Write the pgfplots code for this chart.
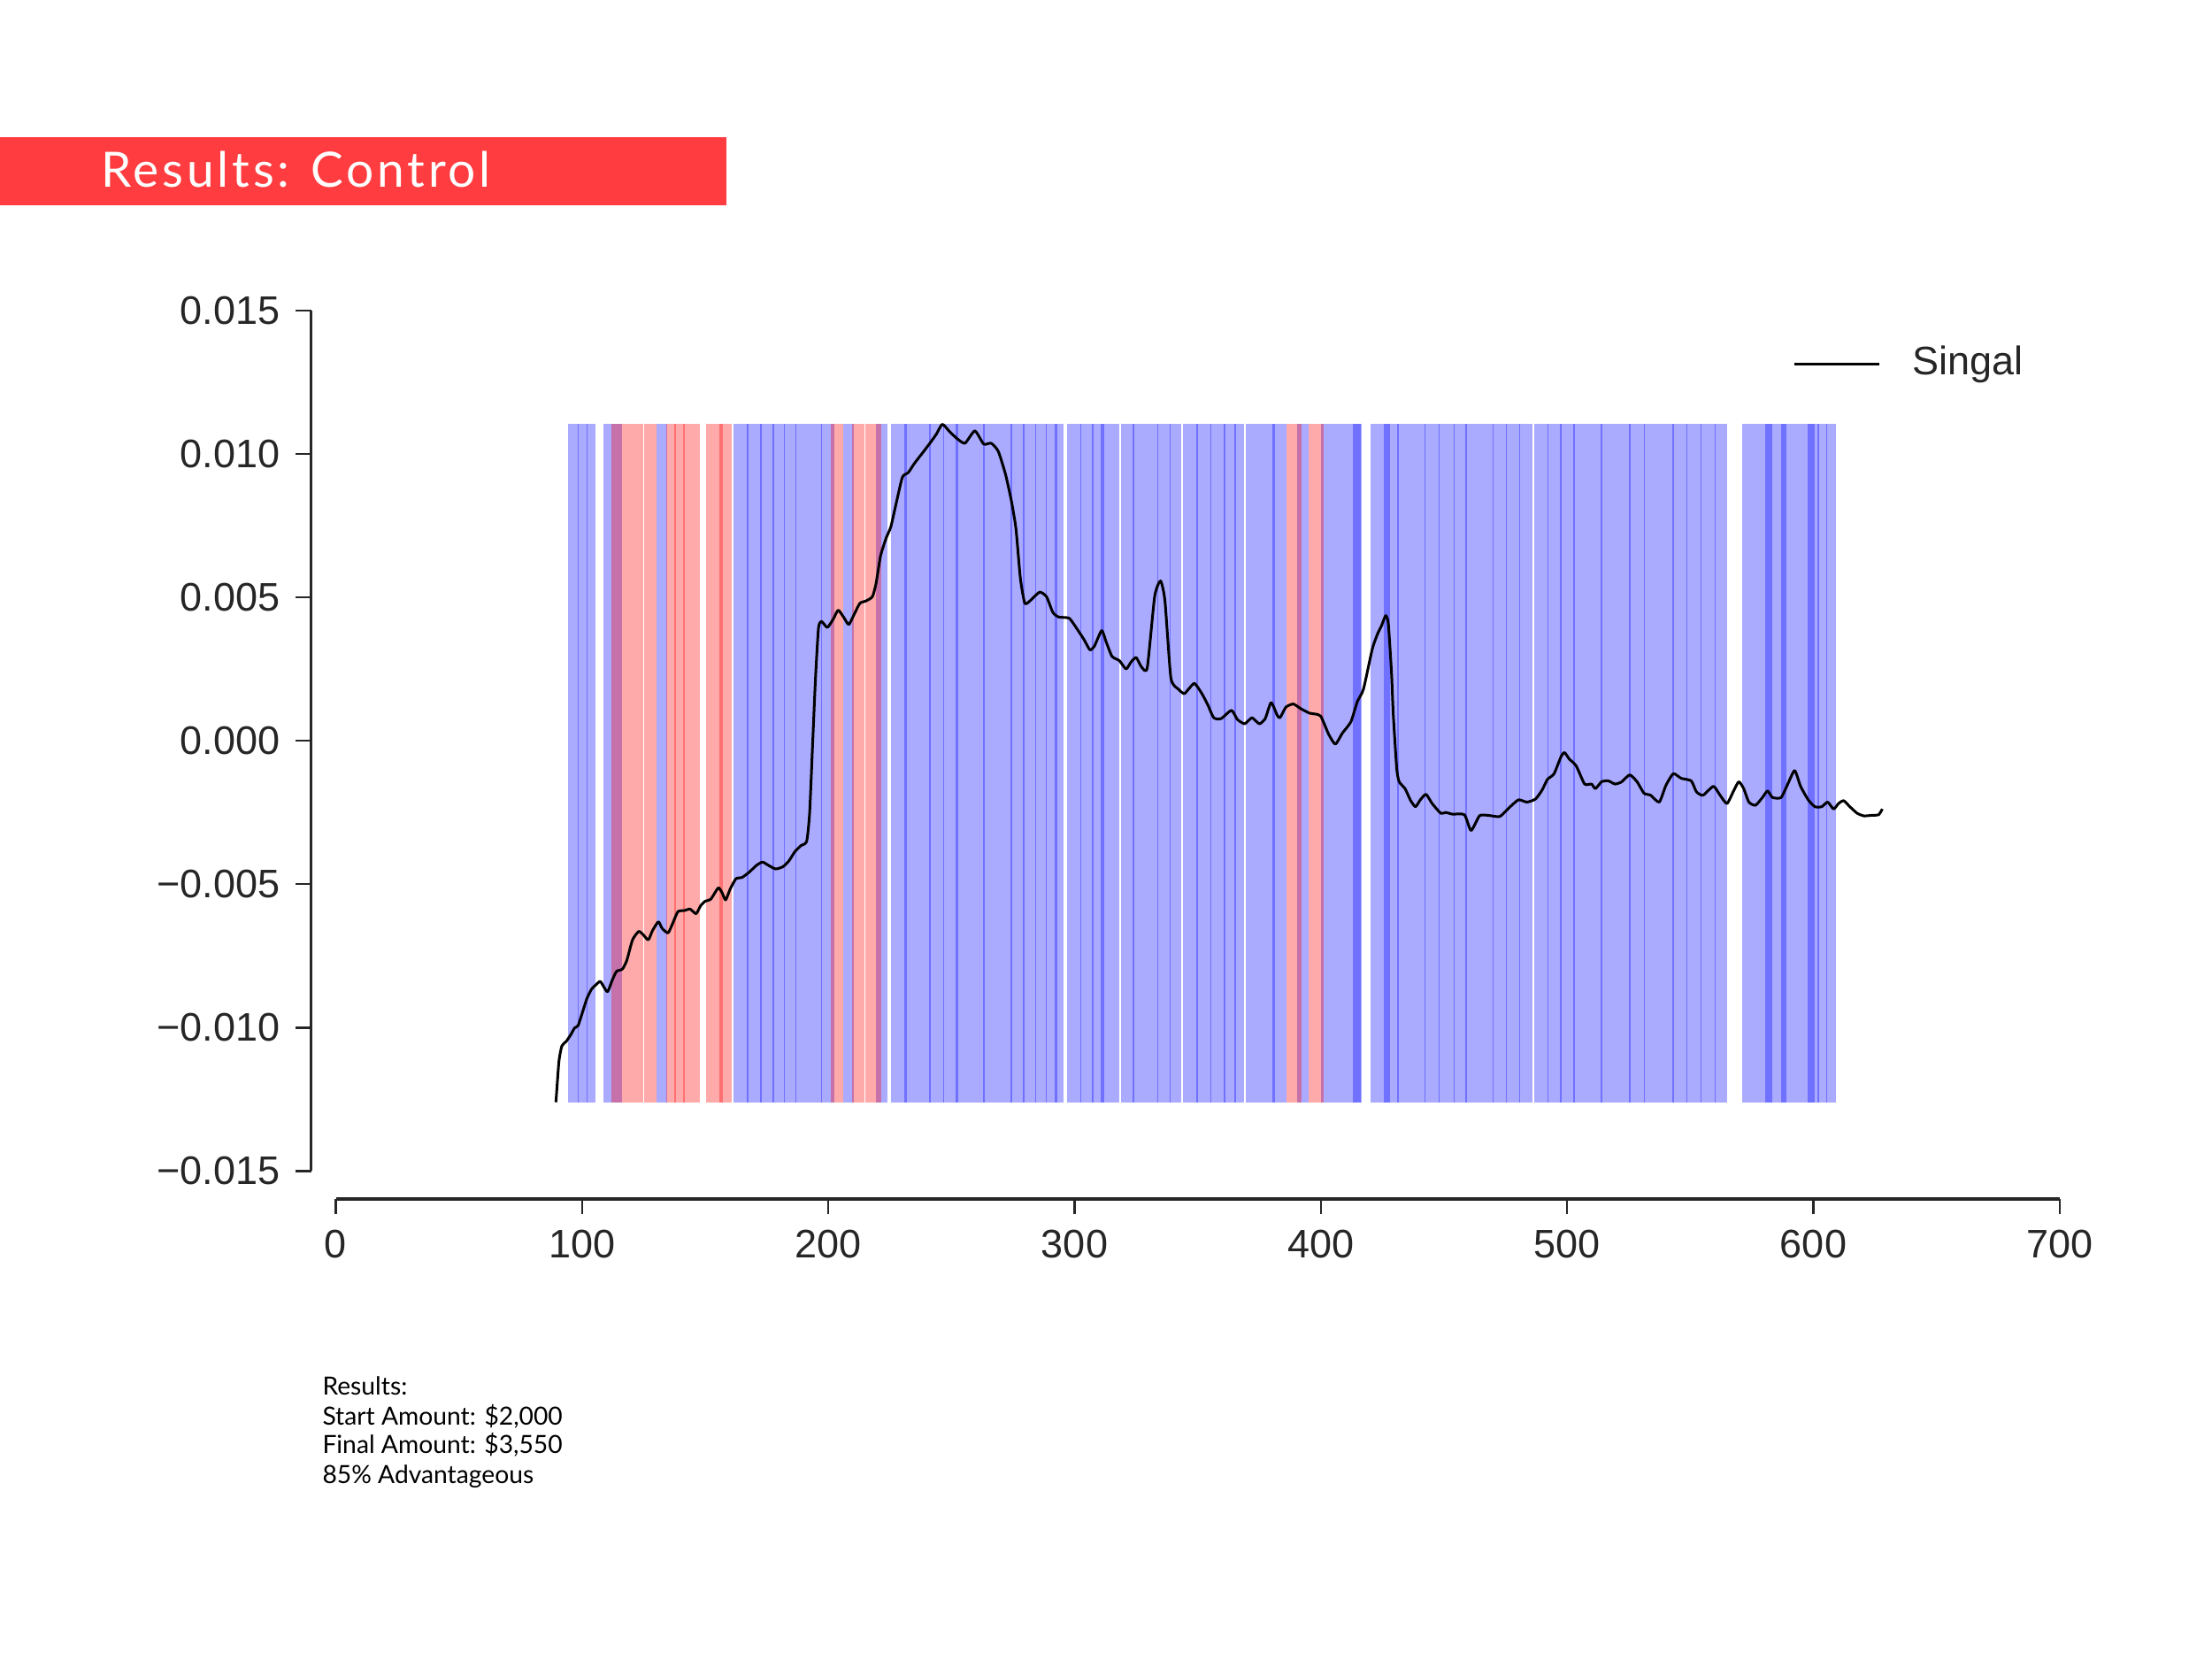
\documentclass[border=0pt]{standalone}
\usepackage{fontspec}
\setmainfont{Liberation Sans}
\newfontfamily\latofont{Lato}
\newfontfamily\titlefont{Lato}[LetterSpace=7]
\usepackage{pgfplots}
\pgfplotsset{compat=1.18}

\definecolor{axgray}{RGB}{38,38,38}
\definecolor{bannerred}{RGB}{255,61,64}

\def\blo{-0.0126}
\def\bhi{0.01105}

\begin{document}
\begin{tikzpicture}
\path[use as bounding box] (0,0) rectangle (500pt,375pt);

% title banner
\fill[bannerred] (0pt,328.5pt) rectangle (164.2pt,343.9pt);
\node[anchor=base west, inner sep=0pt, text=white, font=\titlefont\fontsize{11}{13}\selectfont]
  at (22.6pt,332.7pt) {Results: Control};

\begin{axis}[
    at={(75.9pt,110.32pt)}, anchor=south west,
    scale only axis,
    width=389.66pt, height=194.52pt,
    xmin=0, xmax=700, ymin=-0.015, ymax=0.015,
    axis lines=left,
    axis x line shift=6.3pt,
    axis y line shift=5.56pt,
    axis line style={-, line width=0.7pt, color=axgray},
    every outer x axis line/.append style={-},
    every outer y axis line/.append style={-},
    xtick={0,100,200,300,400,500,600,700},
    xticklabels={0,100,200,300,400,500,600,700},
    ytick={-0.015,-0.01,-0.005,0,0.005,0.01,0.015},
    yticklabels={−0.015,−0.010,−0.005,0.000,0.005,0.010,0.015},
    scaled y ticks=false,
    tick align=outside,
    major tick length=3.5pt,
    tick style={line width=0.5pt, color=axgray},
    tick label style={font=\fontsize{9}{10}\selectfont, text=axgray},
    legend style={draw=none, fill=none, at={(0.8446,0.9381)}, anchor=west,
        inner sep=0pt, font=\fontsize{9}{10}\selectfont, text=axgray,
        nodes={inner sep=0pt}},
    legend image code/.code={\draw[#1] (0pt,0pt) -- (19.2pt,0pt); \path (26.4pt,0pt);},
]

% blue spans
\foreach \a/\b in {94.2/105.5, 108.8/116.1, 130.1/134.6, 161.5/202.3, 205.9/210.5,
    219.4/223.9, 225.6/295.6, 296.9/318.2, 319.0/343.3, 344.1/368.8, 369.6/386.0,
    390.3/395.1, 400.2/416.7, 420.3/485.8, 486.6/565.1, 571.2/609.2} {
  \edef\temp{\noexpand\addplot[forget plot, draw=none, fill=blue, fill opacity=0.333]
    coordinates {(\a,\blo) (\b,\blo) (\b,\bhi) (\a,\bhi)};}
  \temp
}
% overlapping blue spans
\foreach \a/\b in {98.2/98.7, 101.8/102.3, 167.0/167.6, 172.35/172.85, 177.45/177.95,
    181.9/182.5, 186.6/187.0, 197.0/197.4, 230.7/231.9, 241.05/241.55, 246.65/247.15,
    251.75/252.85, 262.7/263.5, 273.85/274.55, 278.85/279.55, 284.05/284.55, 288.4/288.8,
    291.8/293.0, 302.35/302.85, 306.95/307.85, 310.5/312.1, 323.45/324.15, 333.45/333.95,
    338.45/338.95, 349.45/349.95, 355.05/355.55, 360.6/361.2, 364.8/365.6, 380.35/381.25,
    413.1/416.4, 425.7/428.1, 431.1/431.5, 442.2/442.6, 447.9/448.3, 453.9/454.3,
    458.8/459.4, 469.7/470.1, 475.2/475.6, 480.4/480.8, 491.9/492.5, 497.15/497.65,
    502.5/503.1, 513.7/514.3, 525.1/525.7, 531.2/531.6, 542.7/543.3, 548.35/548.65,
    554.3/554.7, 559.8/560.4, 580.4/583.4, 586.8/589.2, 597.8/600.6, 601.6/602.5,
    605.15/605.45} {
  \edef\temp{\noexpand\addplot[forget plot, draw=none, fill=blue, fill opacity=0.333]
    coordinates {(\a,\blo) (\b,\blo) (\b,\bhi) (\a,\bhi)};}
  \temp
}
% red spans
\foreach \a/\b in {111.8/124.7, 125.3/130.4, 134.1/147.7, 150.5/160.9, 201.1/205.9,
    209.8/214.5, 214.9/221.5, 386.0/392.0, 395.1/401.3,
    137.4/138.0, 141.0/141.6, 155.6/157.1} {
  \edef\temp{\noexpand\addplot[forget plot, draw=none, fill=red, fill opacity=0.333]
    coordinates {(\a,\blo) (\b,\blo) (\b,\bhi) (\a,\bhi)};}
  \temp
}

\addplot[black, line width=0.6pt, line join=round, smooth, tension=0.35] table {
x y
89.4 -0.01260
90.6 -0.01119
91.8 -0.01064
93.6 -0.01048
95.4 -0.01025
97.0 -0.01001
98.4 -0.00993
100.2 -0.00946
102.0 -0.00898
103.8 -0.00867
105.6 -0.00851
107.4 -0.00839
108.9 -0.00859
110.4 -0.00875
112.2 -0.00836
114.0 -0.00804
116.4 -0.00796
118.2 -0.00765
120.5 -0.00694
123.0 -0.00665
124.7 -0.00675
126.9 -0.00694
128.6 -0.00662
131.0 -0.00631
132.5 -0.00654
134.9 -0.00670
136.7 -0.00639
138.9 -0.00596
141.5 -0.00592
143.9 -0.00587
146.3 -0.00603
148.1 -0.00576
149.9 -0.00560
152.3 -0.00552
155.3 -0.00513
156.8 -0.00529
158.3 -0.00555
160.1 -0.00518
162.5 -0.00481
164.9 -0.00477
167.9 -0.00458
170.9 -0.00434
173.3 -0.00423
175.6 -0.00434
178.6 -0.00447
181.6 -0.00439
184.0 -0.00419
186.4 -0.00387
188.8 -0.00366
191.2 -0.00351
192.4 -0.00253
193.6 -0.00017
194.8 0.00219
196.0 0.00392
197.2 0.00416
199.6 0.00395
202.0 0.00424
204.0 0.00455
206.2 0.00431
208.3 0.00405
210.4 0.00439
212.8 0.00479
215.2 0.00487
217.9 0.00502
219.4 0.00549
221.2 0.00644
223.5 0.00707
225.4 0.00746
227.7 0.00833
230.1 0.00919
232.5 0.00935
234.9 0.00966
238.5 0.01006
241.5 0.01040
243.9 0.01069
246.3 0.01103
249.3 0.01077
252.3 0.01053
255.5 0.01037
259.5 0.01080
263.1 0.01034
266.1 0.01037
269.0 0.01009
272.0 0.00927
274.4 0.00833
276.2 0.00738
278.0 0.00565
279.8 0.00479
282.2 0.00490
285.8 0.00518
288.6 0.00502
291.2 0.00447
293.6 0.00431
297.8 0.00427
300.8 0.00392
303.8 0.00353
306.2 0.00317
308.0 0.00329
311.0 0.00384
312.8 0.00345
315.2 0.00294
318.2 0.00279
320.9 0.00250
322.9 0.00274
325.0 0.00290
327.1 0.00258
329.5 0.00254
332.5 0.00502
334.9 0.00557
336.7 0.00487
339.1 0.00219
342.1 0.00180
344.5 0.00164
346.3 0.00180
348.7 0.00200
351.7 0.00164
354.1 0.00125
356.5 0.00080
359.5 0.00077
363.7 0.00106
366.1 0.00074
369.1 0.00059
372.0 0.00080
375.0 0.00059
377.4 0.00077
379.8 0.00133
382.2 0.00090
383.4 0.00080
385.8 0.00117
388.8 0.00128
391.8 0.00112
395.4 0.00096
397.8 0.00093
400.0 0.00085
403.2 0.00022
405.9 -0.00012
408.7 0.00026
412.2 0.00066
414.8 0.00136
417.3 0.00180
420.9 0.00320
423.2 0.00376
424.6 0.00400
426.3 0.00436
427.4 0.00408
428.7 0.00235
429.4 0.00093
430.8 -0.00096
431.8 -0.00143
434.2 -0.00167
436.3 -0.00206
438.4 -0.00230
440.4 -0.00206
442.7 -0.00187
445.2 -0.00219
448.7 -0.00253
450.7 -0.00250
453.5 -0.00256
458.3 -0.00258
461.0 -0.00313
464.5 -0.00261
468.6 -0.00261
472.7 -0.00264
476.9 -0.00230
480.3 -0.00206
483.7 -0.00214
487.2 -0.00203
489.9 -0.00171
492.0 -0.00135
494.7 -0.00115
497.5 -0.00056
498.9 -0.00041
500.9 -0.00064
503.7 -0.00088
507.1 -0.00151
509.9 -0.00151
511.5 -0.00167
514.0 -0.00143
516.7 -0.00140
519.5 -0.00151
522.2 -0.00143
525.4 -0.00119
528.4 -0.00143
531.2 -0.00183
533.9 -0.00190
537.4 -0.00214
540.1 -0.00156
543.1 -0.00115
546.3 -0.00131
550.4 -0.00140
552.5 -0.00178
555.2 -0.00190
559.4 -0.00159
562.1 -0.00190
564.9 -0.00219
567.6 -0.00175
569.7 -0.00143
571.7 -0.00167
573.8 -0.00214
576.5 -0.00225
579.3 -0.00198
581.4 -0.00175
583.4 -0.00198
586.9 -0.00198
589.6 -0.00151
592.4 -0.00104
594.8 -0.00159
597.9 -0.00206
600.6 -0.00230
603.4 -0.00230
605.8 -0.00214
608.2 -0.00238
610.2 -0.00219
612.3 -0.00209
614.8 -0.00230
617.8 -0.00253
620.5 -0.00262
623.8 -0.00260
626.5 -0.00258
628.0 -0.00238
};
\addlegendentry{Singal}
\end{axis}

% results text
\node[anchor=base west, inner sep=0pt, font=\latofont\fontsize{5.65}{6.7}\selectfont] at (72.7pt,59.7pt) {Results:};
\node[anchor=base west, inner sep=0pt, font=\latofont\fontsize{5.65}{6.7}\selectfont] at (72.7pt,52.9pt) {Start Amount: \$2,000};
\node[anchor=base west, inner sep=0pt, font=\latofont\fontsize{5.65}{6.7}\selectfont] at (72.7pt,46.5pt) {Final Amount: \$3,550};
\node[anchor=base west, inner sep=0pt, font=\latofont\fontsize{5.65}{6.7}\selectfont] at (72.7pt,39.7pt) {85\% Advantageous};
\end{tikzpicture}
\end{document}
